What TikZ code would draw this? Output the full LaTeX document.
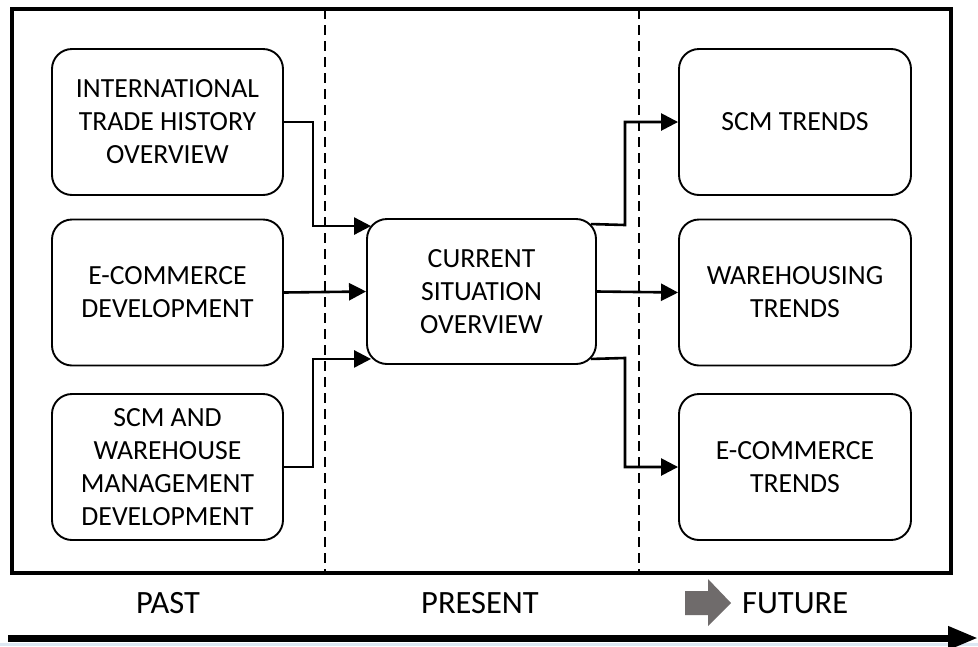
\documentclass[tikz,border=0pt]{standalone}
\usepackage{fontspec}
\setmainfont{Carlito}
\usetikzlibrary{arrows.meta,calc}
\definecolor{blockgray}{HTML}{6F6B6B}
\definecolor{bandblue}{HTML}{DDE8F3}
\tikzset{
  stagebox/.style={draw, line width=1.9pt, rounded corners=20pt, minimum width=231pt,
    minimum height=146pt, align=center, font=\fontsize{27.7}{33}\selectfont, inner sep=0pt},
  link/.style={line width=2.6pt, -{Triangle[length=17pt,width=17pt]}},
  divider/.style={line width=1.8pt, dash pattern=on 10pt off 6pt},
  era/.style={anchor=base, font=\fontsize{32.5}{36}\selectfont, inner sep=0pt}
}
\begin{document}
\begin{tikzpicture}[x=1pt,y=-1pt]
\useasboundingbox (0,0) rectangle (978,646);
\fill[white] (0,0) rectangle (978,646);
\fill[bandblue] (0,643) rectangle (978,646);

% outer frame and era dividers
\draw[line width=3.2pt] (12,9) rectangle (951,573);
\coordinate (d1top) at (325,9);
\coordinate (d1bot) at (325,573);
\coordinate (d2top) at (639,9);
\coordinate (d2bot) at (639,573);
\draw[divider] (d1top) -- (d1bot);
\draw[divider] (d2top) -- (d2bot);

% past
\node[stagebox] (ith) at (167.5,122) {INTERNATIONAL\\TRADE HISTORY\\OVERVIEW};
\node[stagebox] (ecd) at (167.5,292.5) {E-COMMERCE\\DEVELOPMENT};
\node[stagebox] (scmd) at (167.5,467) {SCM AND\\WAREHOUSE\\MANAGEMENT\\DEVELOPMENT};

% present
\node[stagebox, minimum width=229pt, minimum height=145pt] (cur) at (481.5,291.5) {CURRENT\\SITUATION\\OVERVIEW};

% future
\node[stagebox, minimum width=232pt] (scmt) at (795,122) {SCM TRENDS};
\node[stagebox, minimum width=232pt] (wht) at (795,292.5) {WAREHOUSING\\TRENDS};
\node[stagebox, minimum width=232pt] (ect) at (795,467) {E-COMMERCE\\TRENDS};

% connector anchors on the rounded corners of the centre box
\coordinate (cnw) at ($(cur.north west)+(5,8)$);
\coordinate (csw) at ($(cur.south west)+(5,-6)$);
\coordinate (cne) at ($(cur.north east)+(-6,6)$);
\coordinate (cse) at ($(cur.south east)+(-6,-6)$);

\draw[link] (ith.east) -- ++(29,0) |- (cnw);
\draw[link] (ecd.east) -- (cur.west);
\draw[link] (scmd.east) -- ++(29,0) |- (csw);

\draw[link] (cne) -- (625,225) |- (scmt.west);
\draw[link] (cur.east) -- (wht.west);
\draw[link] (cse) -- (625,358) |- (ect.west);

% era labels
\node[era] (past) at (168,613) {PAST};
\node[era] (present) at (480,613) {PRESENT};
\node[era, anchor=base west] (future) at (742,613) {FUTURE};
\fill[blockgray] (685,591) -- (708,591) -- (708,579) -- (731,603) -- (708,626)
  -- (708,615) -- (685,615) -- cycle;

% time axis
\coordinate (tstart) at (8,638);
\coordinate (tend) at (978,638);
\draw[line width=7pt, -{Triangle[length=30pt,width=22pt]}] (tstart) -- (tend);
\end{tikzpicture}
\end{document}
